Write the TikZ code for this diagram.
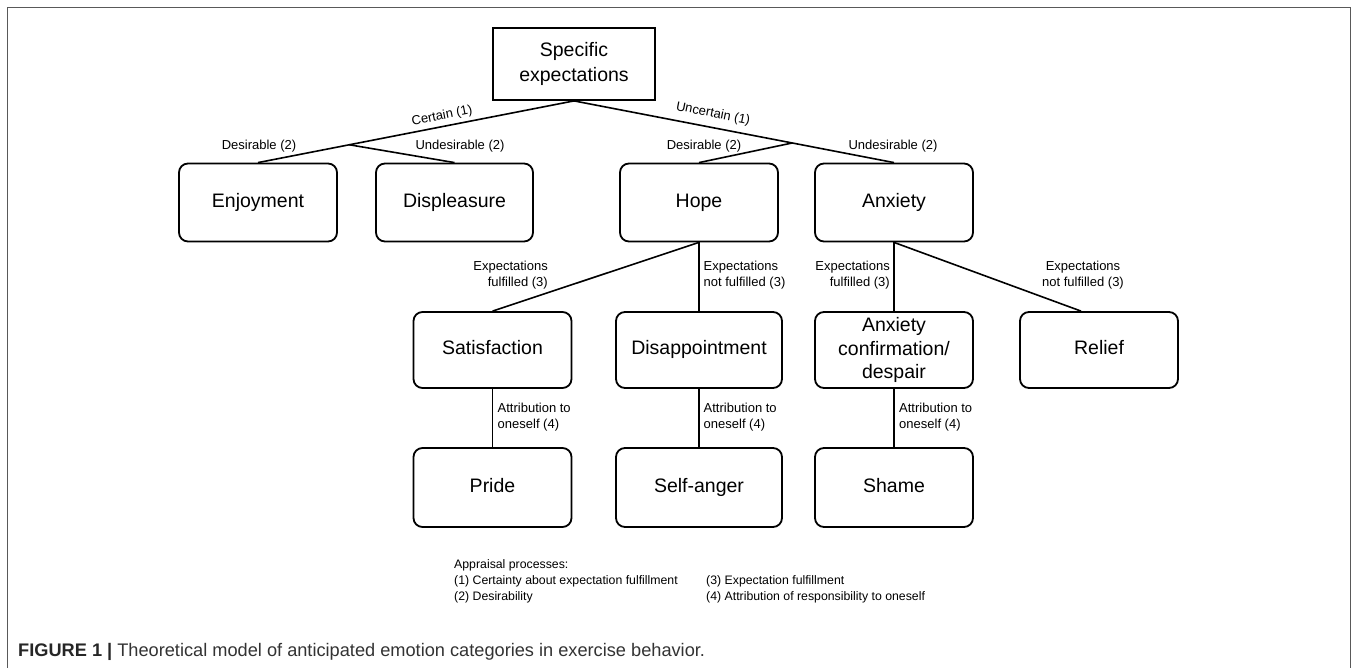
\documentclass[tikz,border=0pt]{standalone}
\usepackage{fontspec}
\setmainfont{Liberation Sans}
\usetikzlibrary{calc}
\begin{document}
\begin{tikzpicture}[x=1pt,y=-1pt,
  box/.style={draw=black,line width=1.8pt,rounded corners=9pt,inner sep=2pt,
    align=center,font=\fontsize{19.5}{23.5}\selectfont,minimum width=158pt,minimum height=78pt},
  one/.style={text height=14pt,text depth=4.5pt},
  topbox/.style={draw=black,line width=1.8pt,inner sep=2pt,align=center,
    font=\fontsize{19.5}{25}\selectfont,minimum width=162pt,minimum height=72pt},
  conn/.style={line width=1.6pt,black},
  vconn/.style={line width=1.3pt,black},
  lbl/.style={font=\fontsize{13}{16}\selectfont,inner sep=0pt},
  leg/.style={font=\fontsize{12.3}{16}\selectfont,inner sep=0pt,anchor=west},
]
\useasboundingbox (0,0) rectangle (1357,668);
\draw[line width=1pt,black!65] (7,8) rectangle (1350,690);

% nodes
\node[topbox] (top) at (574,64) {Specific\\expectations};
\node[box,one] (enj) at (258,202.5) {Enjoyment};
\node[box,one,minimum width=157pt] (dis) at (454.5,202.5) {Displeasure};
\node[box,one] (hope) at (699,202.5) {Hope};
\node[box,one] (anx) at (894,202.5) {Anxiety};

\node[box,one,minimum height=76pt] (sat) at (492.5,350) {Satisfaction};
\node[box,one,minimum width=166pt,minimum height=76pt] (disap) at (699,350) {Disappointment};
\node[box,minimum height=76pt] (anxc) at (894,350) {Anxiety\\confirmation/\\despair};
\node[box,one,minimum height=76pt] (rel) at (1099,350) {Relief};

\node[box,one,minimum height=79pt] (pride) at (492.5,487.5) {Pride};
\node[box,one,minimum width=166pt,minimum height=79pt] (sanger) at (699,487.5) {Self-anger};
\node[box,one,minimum height=79pt] (shame) at (894,487.5) {Shame};

% junctions
\coordinate (j1) at ($(top.south)!0.711!(enj.north)$);
\coordinate (j2) at ($(top.south)!0.682!(anx.north)$);

% connectors
\draw[conn] (top.south) -- (enj.north);
\draw[conn] (j1) -- (dis.north);
\draw[conn] (top.south) -- (anx.north);
\draw[conn] (j2) -- (hope.north);

\draw[conn] (hope.south) -- (sat.north);
\draw[vconn] (hope.south) -- (disap.north);
\draw[vconn] (anx.south) -- (anxc.north);
\draw[conn] (anx.south) -- ([xshift=-18pt]rel.north);

\draw[vconn] (sat.south) -- (pride.north);
\draw[vconn] (disap.south) -- (sanger.north);
\draw[vconn] (anxc.south) -- (shame.north);

% labels
\node[lbl,rotate=11.3] (lc) at (442,116) {Certain (1)};
\node[lbl,rotate=-11.2] (lu) at (713,114) {Uncertain (1)};
\node[lbl] (ld1) at (259,146) {Desirable (2)};
\node[lbl] (lu1) at (460,146) {Undesirable (2)};
\node[lbl] (ld2) at (704,146) {Desirable (2)};
\node[lbl] (lu2) at (893,146) {Undesirable (2)};

\node[lbl,anchor=east,align=right] (ef1) at (548,275.5) {Expectations\\fulfilled (3)};
\node[lbl,anchor=west,align=left] (en1) at (703.5,275.5) {Expectations\\not fulfilled (3)};
\node[lbl,anchor=east,align=right] (ef2) at (890,275.5) {Expectations\\fulfilled (3)};
\node[lbl,align=center] (en2) at (1083,275.5) {Expectations\\not fulfilled (3)};

\node[lbl,anchor=west,align=left] (a1) at (497.5,417) {Attribution to\\oneself (4)};
\node[lbl,anchor=west,align=left] (a2) at (703.5,417) {Attribution to\\oneself (4)};
\node[lbl,anchor=west,align=left] (a3) at (899,417) {Attribution to\\oneself (4)};

% legend
\node[leg] (g0) at (454,565) {Appraisal processes:};
\node[leg] (g1) at (454,581) {(1) Certainty about expectation fulfillment};
\node[leg] (g2) at (454,597) {(2) Desirability};
\node[leg] (g3) at (706,581) {(3) Expectation fulfillment};
\node[leg] (g4) at (706,597) {(4) Attribution of responsibility to oneself};

% caption
\node[anchor=west,inner sep=0pt,font=\fontsize{18.2}{20}\selectfont,text=black!80] (cap) at (18,652)
  {\textbf{\color{black!85}FIGURE 1 |} Theoretical model of anticipated emotion categories in exercise behavior.};
\end{tikzpicture}
\end{document}
